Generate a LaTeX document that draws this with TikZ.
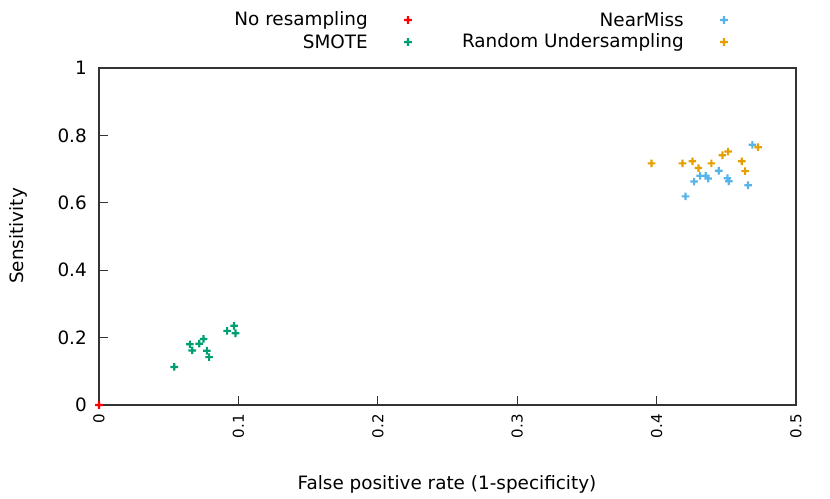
\documentclass[tikz,border=0pt]{standalone}
\usepackage{fontspec}
\setmainfont{DejaVu Sans}
\usepackage{tikz}
\usetikzlibrary{calc}
\definecolor{noresample}{RGB}{255, 0, 0}
\definecolor{smote}{RGB}{0, 158, 115}
\definecolor{nearmiss}{RGB}{86, 180, 233}
\definecolor{randomus}{RGB}{230, 159, 0}
\newcommand{\pmark}{+(-3.8pt,-1.1pt) rectangle +(3.8pt,1.1pt) +(-1.1pt,-3.8pt) rectangle +(1.1pt,3.8pt)}

\begin{document}
\begin{tikzpicture}[
  frame/.style={draw=black!80,line width=1.1pt},
  txt/.style={inner sep=0pt,font=\fontsize{18.4}{21}\selectfont},
  xtxt/.style={inner sep=0pt,font=\fontsize{15}{18}\selectfont}]
  \useasboundingbox (0pt,0pt) rectangle (830pt,498pt);
  % plot area, x in 0.01 steps, y in 0.01 steps
  \begin{scope}[shift={(99pt,93pt)},x=13.94pt,y=3.37pt]
    \draw[frame] (0,0) rectangle (50,100);
    \foreach \v/\t [count=\i] in {0/0,20/0.2,40/0.4,60/0.6,80/0.8,100/1} {
      \draw[frame] (0,\v) -- ++(9pt,0pt);
      \node[txt,anchor=east] (yt\i) at ($(0,\v)+(-12pt,0pt)$) {\t};
    }
    \foreach \v/\t [count=\i] in {0/0,10/0.1,20/0.2,30/0.3,40/0.4,50/0.5} {
      \draw[frame] (\v,0) -- ++(0pt,9pt);
      \node[xtxt,rotate=90,anchor=east] (xt\i) at ($(\v,0)+(0pt,-9pt)$) {\t};
    }
    % points
    \fill[noresample] (0,0) \pmark;
    \fill[smote] \foreach \ptx/\pty in {5.40/11.3,6.52/18.0,6.69/16.2,7.19/18.2,
      7.50/19.6,7.74/16.1,7.90/14.2,9.19/22.0,9.69/23.5,9.79/21.3} {(\ptx,\pty) \pmark};
    \fill[nearmiss] \foreach \ptx/\pty in {46.87/77.2,42.69/66.3,43.12/68.0,43.53/68.0,
      43.70/67.2,44.46/69.5,45.08/67.3,45.18/66.4,46.56/65.2,42.07/61.9} {(\ptx,\pty) \pmark};
    \fill[randomus] \foreach \ptx/\pty in {39.63/71.7,41.86/71.7,42.57/72.3,43.00/70.3,
      43.93/71.7,44.72/74.1,45.13/75.2,46.11/72.3,46.35/69.4,47.28/76.5} {(\ptx,\pty) \pmark};
  \end{scope}
  \node[txt,rotate=90] (ylabel) at (18.5pt,262pt) {Sensitivity};
  \node[txt] (xlabel) at (447pt,14pt) {False positive rate (1-specificity)};
  % key
  \node[txt,anchor=east] (lgNone) at (368pt,478pt) {No resampling};
  \node[txt,anchor=east] (lgSmote) at (368pt,456pt) {SMOTE};
  \node[txt,anchor=east] (lgNear) at (684pt,478pt) {NearMiss};
  \node[txt,anchor=east] (lgRandom) at (684pt,456pt) {Random Undersampling};
  \fill[noresample] ($(lgNone.east)+(40pt,0pt)$) \pmark;
  \fill[smote] ($(lgSmote.east)+(40pt,0pt)$) \pmark;
  \fill[nearmiss] ($(lgNear.east)+(40pt,0pt)$) \pmark;
  \fill[randomus] ($(lgRandom.east)+(40pt,0pt)$) \pmark;
\end{tikzpicture}
\end{document}
